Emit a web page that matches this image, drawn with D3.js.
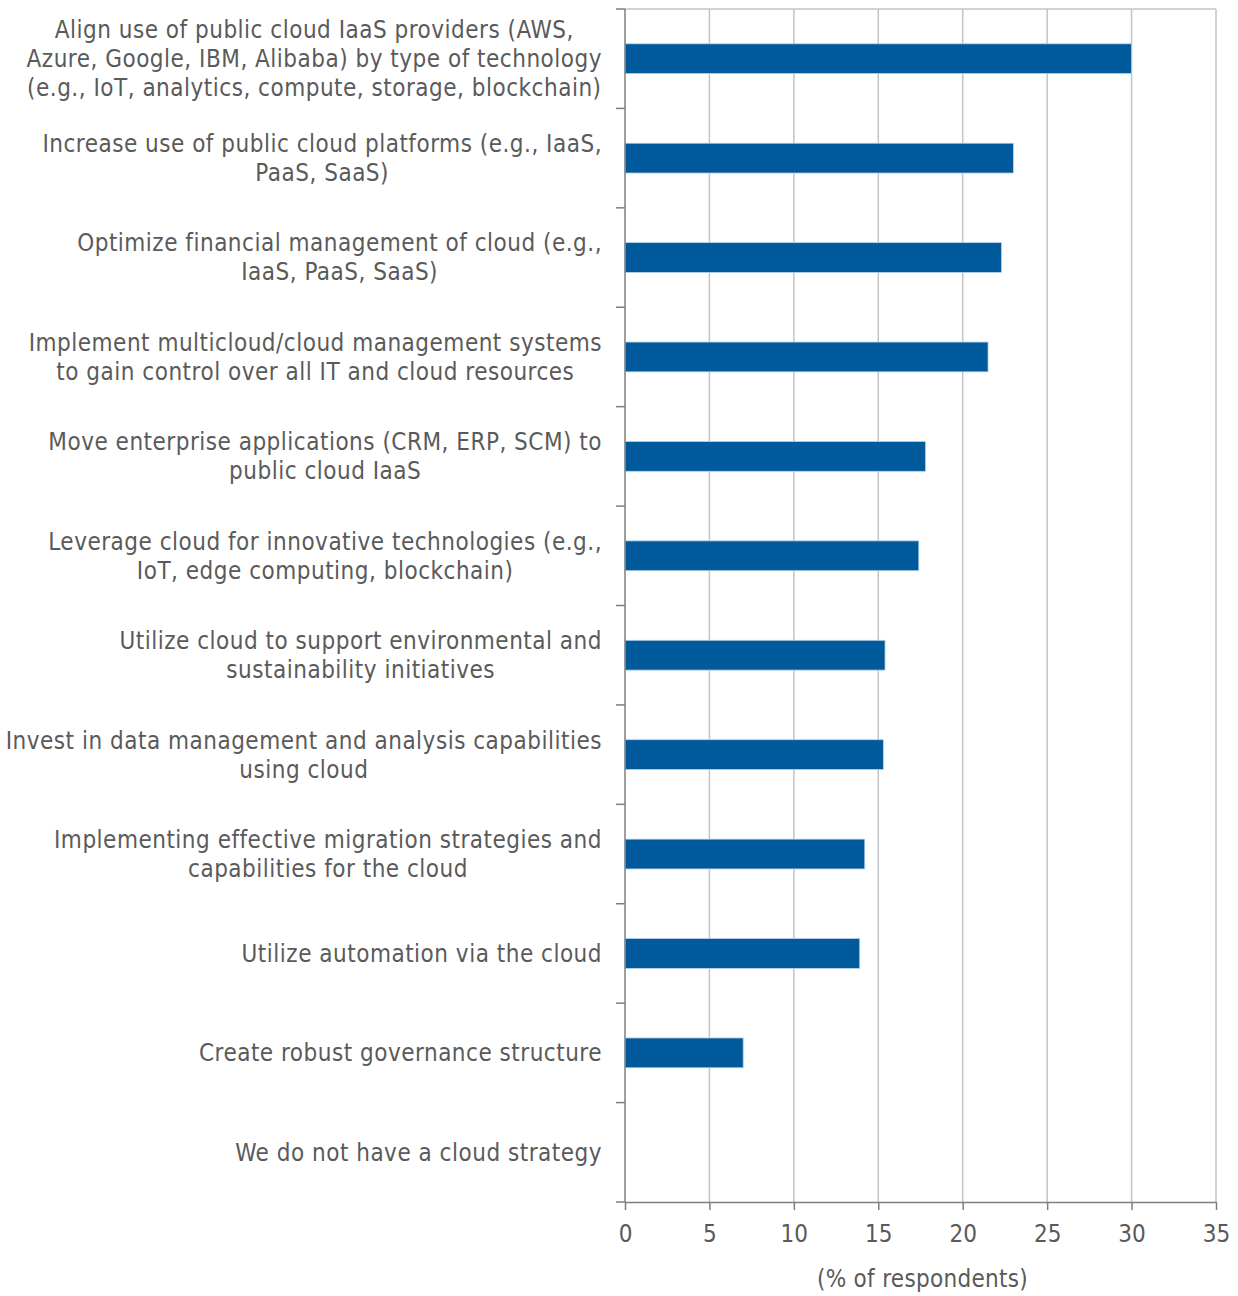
<!DOCTYPE html>
<html><head><meta charset="utf-8">
<script src="https://cdn.jsdelivr.net/npm/d3@7/dist/d3.min.js"></script>
<style>body{margin:0;background:#fff}svg{display:block}</style>
</head><body>
<svg id="chart" width="1238" height="1296"></svg>
<script>
const categories = [
  ["Align use of public cloud IaaS providers (AWS,", "Azure, Google, IBM, Alibaba) by type of technology", "(e.g., IoT, analytics, compute, storage, blockchain)"],
  ["Increase use of public cloud platforms (e.g., IaaS,", "PaaS, SaaS)"],
  ["Optimize financial management of cloud (e.g.,", "IaaS, PaaS, SaaS)"],
  ["Implement multicloud/cloud management systems", "to gain control over all IT and cloud resources"],
  ["Move enterprise applications (CRM, ERP, SCM) to", "public cloud IaaS"],
  ["Leverage cloud for innovative technologies (e.g.,", "IoT, edge computing, blockchain)"],
  ["Utilize cloud to support environmental and", "sustainability initiatives"],
  ["Invest in data management and analysis capabilities", "using cloud"],
  ["Implementing effective migration strategies and", "capabilities for the cloud"],
  ["Utilize automation via the cloud"],
  ["Create robust governance structure"],
  ["We do not have a cloud strategy"]
];
const values = [30.0, 23.0, 22.3, 21.5, 17.8, 17.4, 15.4, 15.3, 14.2, 13.9, 7.0, 0];
const xTicks = [0, 5, 10, 15, 20, 25, 30, 35];
const xTitle = "(% of respondents)";

const svg = d3.select("#chart");
const FONT = "'DejaVu Sans Condensed', 'DejaVu Sans', sans-serif";
const TEXT = "#5a5a5a";
const GRID = "#c4c4c4";
const AXIS = "#7f7f7f";
const BAR = "#005a9c";
const FS = 24;

const x0 = 625, x1 = 1216, yTop = 9, yBot = 1202;
const x = d3.scaleLinear().domain([0, 35]).range([x0, x1]);
const y = d3.scaleBand().domain(d3.range(categories.length)).range([yTop, yBot]).paddingInner(0.7).paddingOuter(0.35);
const step = y.step();

// gridlines
svg.append("g").selectAll("line").data(xTicks.slice(1)).join("line")
  .attr("x1", d => x(d)).attr("x2", d => x(d)).attr("y1", yTop).attr("y2", yBot)
  .attr("stroke", GRID).attr("stroke-width", 1.5);
// top border
svg.append("line").attr("x1", x0).attr("x2", x1).attr("y1", yTop).attr("y2", yTop)
  .attr("stroke", GRID).attr("stroke-width", 1.5);

// bars
svg.append("g").selectAll("rect").data(values).join("rect")
  .attr("x", x(0)).attr("y", (d, i) => y(i))
  .attr("width", d => x(d) - x(0)).attr("height", y.bandwidth())
  .attr("fill", BAR).attr("stroke", d => d > 0 ? "#b9d3ea" : "none").attr("stroke-width", 0.8);

// left axis
const ya = svg.append("g");
ya.append("line").attr("x1", x0).attr("x2", x0).attr("y1", yTop).attr("y2", yBot).attr("stroke", AXIS).attr("stroke-width", 1.5);
ya.selectAll("line.t").data(d3.range(categories.length + 1)).join("line").attr("class", "t")
  .attr("x1", x0 - 9).attr("x2", x0).attr("y1", i => yTop + i * step).attr("y2", i => yTop + i * step)
  .attr("stroke", AXIS).attr("stroke-width", 1.5);

// bottom axis
const xa = svg.append("g").attr("transform", `translate(0,${yBot})`)
  .call(d3.axisBottom(x).tickValues(xTicks).tickSize(8).tickPadding(15).tickSizeOuter(0));
xa.select(".domain").attr("stroke", AXIS).attr("stroke-width", 1.5);
xa.selectAll(".tick line").attr("stroke", AXIS).attr("stroke-width", 1.5);
xa.selectAll(".tick text").attr("fill", TEXT).attr("font-family", FONT).attr("font-size", FS);

svg.append("text").attr("x", (x0 + x1) / 2 + 2).attr("y", 1287).attr("text-anchor", "middle")
  .attr("fill", TEXT).attr("font-family", FONT).attr("font-size", FS).attr("letter-spacing", 0.3).text(xTitle);

// category labels
const lineH = 29, rightEdge = 602;
const lg = svg.append("g").attr("font-family", FONT).attr("font-size", FS).attr("fill", TEXT).attr("letter-spacing", 0.5);
categories.forEach((lines, i) => {
  const cy = y(i) + y.bandwidth() / 2;
  const g = lg.append("g");
  const ts = lines.map((l, k) => g.append("text")
    .attr("y", cy + (k - (lines.length - 1) / 2) * lineH)
    .attr("dy", "0.35em").attr("text-anchor", "middle").text(l));
  const maxW = d3.max(ts, t => t.node().getComputedTextLength());
  ts.forEach(t => t.attr("x", rightEdge - maxW / 2));
});
</script>
</body></html>
